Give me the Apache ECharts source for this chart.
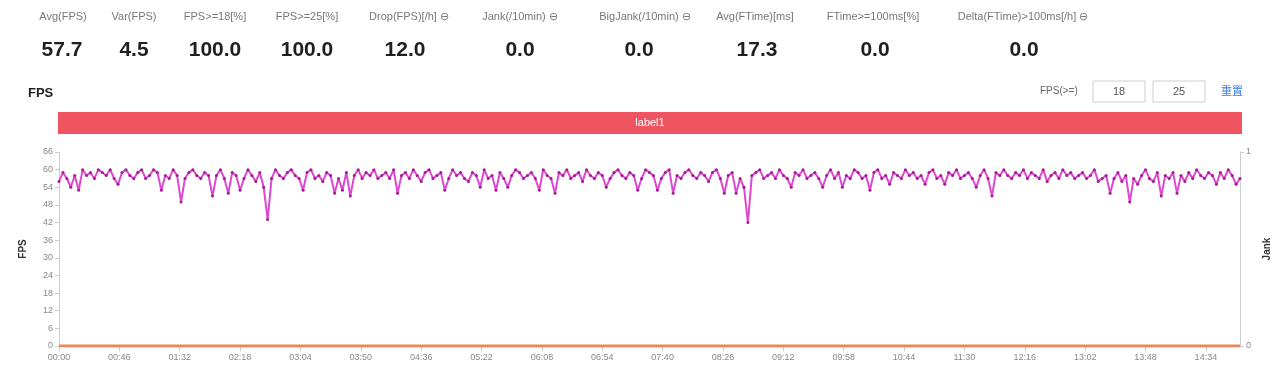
<!DOCTYPE html>
<html>
<head>
<meta charset="utf-8">
<script src="https://cdn.jsdelivr.net/npm/echarts@6/dist/echarts.min.js"></script>
<style>
html,body{margin:0;padding:0;background:#fff;}
#main{width:1280px;height:370px;}
</style>
</head>
<body>
<div id="main"></div>
<script>
// ---- data ----
const statNames = ['Avg(FPS)','Var(FPS)','FPS>=18[%]','FPS>=25[%]','Drop(FPS)[/h]','Jank(/10min)','BigJank(/10min)','Avg(FTime)[ms]','FTime>=100ms[%]','Delta(FTime)>100ms[/h]'];
const statValues = ['57.7','4.5','100.0','100.0','12.0','0.0','0.0','17.3','0.0','0.0'];
const statHasIcon = [false,false,false,false,true,true,true,false,false,true];

const fpsThresholds = ['18','25'];

const segLabels = ['label1'];
const segStart = [0];
const segEnd = [900];

// FPS sampled every 3 seconds, 00:00 .. 15:00
const fpsStep = 3;
const fpsValues = [
  56,59,57,54,58,53,60,58,59,57,60,59,58,60,57,55,59,60,58,57,
  59,60,57,58,60,59,53,58,57,60,58,49,57,59,60,58,57,59,58,51,
  58,60,57,52,59,58,53,57,60,58,56,59,54,43,57,60,58,57,59,60,
  58,57,53,59,60,57,58,56,59,58,52,57,53,59,51,58,60,57,59,58,
  60,57,58,59,57,60,52,58,59,57,60,58,56,59,60,57,58,59,53,57,
  60,58,59,57,56,59,58,54,60,57,58,53,59,57,54,58,60,59,57,58,
  59,57,53,60,58,57,52,59,58,60,57,58,59,56,60,58,57,59,58,54,
  57,59,60,58,57,59,58,53,57,60,59,58,53,57,59,60,52,58,57,59,
  60,58,57,59,58,56,59,60,57,52,58,59,52,57,54,42,58,59,60,57,
  58,59,57,60,58,57,54,59,58,60,57,58,59,57,54,58,60,57,59,54,
  58,57,60,59,57,58,53,59,60,57,58,55,59,58,57,60,58,59,57,58,
  55,59,60,57,58,55,59,58,60,57,58,59,57,54,58,60,57,51,59,58,
  60,58,57,59,58,60,57,59,58,57,60,56,58,59,57,60,58,59,57,58,
  59,57,58,60,56,57,58,52,57,59,56,58,49,57,55,58,60,57,56,59,
  51,58,57,59,52,58,56,59,57,60,58,57,59,58,55,59,57,60,58,55,
  57
];
const jankTimes = [0, 900];
const jankValues = [0, 0];

// ---- layout ----
const labelCenters = [63,134,215,307,409,520,645,755,873,1023];
const valueCenters = [62,134,215,307,405,520,639,757,875,1024];

const fpsData = fpsValues.map((v, i) => [i * fpsStep, v]);
const jankData = jankTimes.map((t, i) => [t, jankValues[i]]);
const segData = segLabels.map((l, i) => [segStart[i], segEnd[i], 0, l]);

function mmss(v){
  const m = Math.floor(v / 60), s = Math.round(v % 60);
  return String(m).padStart(2,'0') + ':' + String(s).padStart(2,'0');
}

const graphics = [];
statNames.forEach((n, i) => {
  graphics.push({
    type: 'text', x: labelCenters[i], y: 17,
    style: { text: n + (statHasIcon[i] ? ' \u2296' : ''), textAlign: 'center', textVerticalAlign: 'middle',
      fill: '#777', font: '11px "Liberation Sans", Arial, sans-serif' }
  });
  graphics.push({
    type: 'text', x: valueCenters[i], y: 50,
    style: { text: statValues[i], textAlign: 'center', textVerticalAlign: 'middle',
      fill: '#1f1f1f', font: 'bold 21px "Liberation Sans", Arial, sans-serif' }
  });
});
graphics.push({ type: 'text', x: 28, y: 93,
  style: { text: 'FPS', fill: '#222', textVerticalAlign: 'middle', font: 'bold 13px "Liberation Sans", Arial, sans-serif' } });
graphics.push({ type: 'text', x: 1040, y: 91,
  style: { text: 'FPS(>=)', fill: '#666', textVerticalAlign: 'middle', font: '10px "Liberation Sans", Arial, sans-serif' } });
[1093, 1153].forEach((x, i) => {
  graphics.push({ type: 'rect', shape: { x: x, y: 81, width: 52, height: 21 },
    style: { fill: '#fff', stroke: '#cfcfcf', lineWidth: 1 } });
  graphics.push({ type: 'text', x: x + 26, y: 92,
    style: { text: fpsThresholds[i], fill: '#555', textAlign: 'center', textVerticalAlign: 'middle',
      font: '11px "Liberation Sans", Arial, sans-serif' } });
});
graphics.push({ type: 'text', x: 1221, y: 91,
  style: { text: '重置', fill: '#3b7be0', textVerticalAlign: 'middle', font: '11px "Noto Sans CJK SC", sans-serif' } });

const option = {
  backgroundColor: '#fff',
  animation: false,
  graphic: graphics,
  grid: [
    { left: 59, right: 38, top: 152, bottom: 24 },
    { left: 58, right: 38, top: 112, height: 22 }
  ],
  xAxis: [
    { type: 'value', gridIndex: 0, min: 0, max: 900, interval: 46,
      axisLine: { show: true, lineStyle: { color: '#ccc' } },
      axisTick: { show: true, lineStyle: { color: '#ccc' } },
      splitLine: { show: false },
      axisLabel: { formatter: mmss, color: '#888', fontSize: 9, showMaxLabel: false, margin: 7 } },
    { type: 'value', gridIndex: 1, min: 0, max: 900, show: false }
  ],
  yAxis: [
    { type: 'value', gridIndex: 0, min: 0, max: 66, interval: 6,
      name: 'FPS', nameLocation: 'middle', nameGap: 31,
      nameTextStyle: { color: '#333', fontSize: 10, fontWeight: 'bold' },
      axisLine: { show: true, lineStyle: { color: '#ccc' } },
      axisTick: { show: true, length: 4, lineStyle: { color: '#ccc' } },
      splitLine: { show: false },
      axisLabel: { color: '#888', fontSize: 9, margin: 6 } },
    { type: 'value', gridIndex: 0, min: 0, max: 1, interval: 1, position: 'right',
      name: 'Jank', nameLocation: 'middle', nameGap: 22,
      nameTextStyle: { color: '#333', fontSize: 10, fontWeight: 'bold' },
      axisLine: { show: true, lineStyle: { color: '#ccc' } },
      axisTick: { show: true, length: 4, lineStyle: { color: '#ccc' } },
      splitLine: { show: false },
      axisLabel: { color: '#888', fontSize: 9, margin: 6 } },
    { type: 'value', gridIndex: 1, min: 0, max: 1, show: false }
  ],
  series: [
    { type: 'line', name: 'FPS', xAxisIndex: 0, yAxisIndex: 0, data: fpsData,
      showSymbol: true, showAllSymbol: true, symbol: 'circle', symbolSize: 3,
      itemStyle: { color: '#a21b93' },
      lineStyle: { color: '#dc48d0', width: 2 }, z: 3 },
    { type: 'line', name: 'Jank', xAxisIndex: 0, yAxisIndex: 1, data: jankData,
      showSymbol: false, lineStyle: { color: '#f0845a', width: 3 }, z: 4 },
    { type: 'custom', xAxisIndex: 1, yAxisIndex: 2, data: segData,
      renderItem: function (params, api) {
        const p0 = api.coord([api.value(0), 1]);
        const p1 = api.coord([api.value(1), 0]);
        return {
          type: 'rect',
          shape: { x: p0[0], y: p0[1], width: p1[0] - p0[0], height: p1[1] - p0[1] },
          style: { fill: '#ef5461' },
          textContent: { style: { text: segLabels[params.dataIndex], fill: '#fff',
            font: '11px "Liberation Sans", Arial, sans-serif' } },
          textConfig: { position: 'inside' }
        };
      } }
  ]
};

const chart = echarts.init(document.getElementById('main'), null, { renderer: 'canvas' });
chart.setOption(option);
</script>
</body>
</html>
